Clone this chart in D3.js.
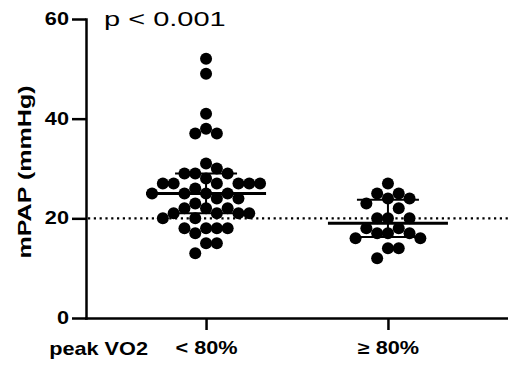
<!DOCTYPE html>
<html>
<head>
<meta charset="utf-8">
<script src="https://cdn.jsdelivr.net/npm/d3@7"></script>
<style>
  body { margin: 0; background: #fff; }
  svg { display: block; font-family: "Liberation Sans", Arial, sans-serif; }
  .axis path, .axis line { stroke: #000; stroke-width: 2.5px; }
  .axis text { font-size: 17.5px; font-weight: bold; fill: #000; }
</style>
</head>
<body>
<svg id="chart" width="508" height="370"></svg>
<script>
// groups and raw mPAP values
let groups = ['< 80%', '≥ 80%'];
let lowVO2 = [52, 49, 41, 38, 37, 37, 31, 30, 29, 29, 29, 28, 27, 27, 27, 27, 27, 27, 26,
  25, 25, 25, 25, 24, 24, 23, 22, 22, 22, 21, 21, 21, 21, 20, 20, 18, 18, 18, 18, 17, 15, 15, 13];
let highVO2 = [27, 25, 25, 24, 24, 23, 22, 20, 20, 20, 18, 18, 17, 17, 17, 16, 16, 14, 14, 12];
let yTicks = [0, 20, 40, 60];
let threshold = 20;

let series = [lowVO2, highVO2];
let stretch = 1.24; // the original font is wider than Arial

let svg = d3.select('#chart');

let x = d3.scalePoint()
  .domain(groups)
  .range([86, 508])
  .padding(0.66);

let y = d3.scaleLinear()
  .domain([0, 60])
  .range([318, 19]);

// quartiles the way Prism does them: position (n+1)p
function quart(arr, p) {
  let s = arr.slice().sort(d3.ascending);
  let h = (s.length + 1) * p - 1;
  let lo = Math.max(0, Math.min(s.length - 1, Math.floor(h)));
  let hi = Math.min(s.length - 1, lo + 1);
  return s[lo] + (h - lo) * (s[hi] - s[lo]);
}

// simple greedy swarm on a column grid
function swarm(values, cx) {
  let step = 10.8, minDist = 10.6;
  let placed = [];
  return values.map(function (v) {
    let py = y(v);
    let px = null;
    for (let k = 0; k < 30 && px === null; k++) {
      let offs = k === 0 ? [0] : [k, -k];
      for (let o of offs) {
        let cand = cx + o * step;
        let ok = placed.every(function (p) { return Math.hypot(p.x - cand, p.y - py) >= minDist; });
        if (ok) { px = cand; break; }
      }
    }
    placed.push({ x: px, y: py });
    return { v: v, x: px, y: py };
  });
}

//======= threshold line =======//
svg.append('line')
  .attr('x1', x.range()[0] + 2)
  .attr('x2', x.range()[1])
  .attr('y1', y(threshold))
  .attr('y2', y(threshold))
  .attr('stroke', '#000')
  .attr('stroke-width', 2.2)
  .attr('stroke-dasharray', '2.2 3.6');

//======= dots =======//
series.forEach(function (vals, i) {
  svg.append('g')
    .selectAll('circle')
    .data(swarm(vals, x(groups[i])))
    .enter()
    .append('circle')
    .attr('cx', function (d) { return d.x; })
    .attr('cy', function (d) { return d.y; })
    .attr('r', 6)
    .attr('fill', '#000');
});

//======= median + IQR =======//
series.forEach(function (vals, i) {
  let cx = x(groups[i]);
  let g = svg.append('g').attr('stroke', '#000');
  let med = quart(vals, 0.5), q1 = quart(vals, 0.25), q3 = quart(vals, 0.75);
  g.append('line')
    .attr('x1', cx).attr('x2', cx)
    .attr('y1', y(q1)).attr('y2', y(q3))
    .attr('stroke-width', 2);
  [q1, q3].forEach(function (q) {
    g.append('line')
      .attr('x1', cx - 31).attr('x2', cx + 31)
      .attr('y1', y(q)).attr('y2', y(q))
      .attr('stroke-width', 2);
  });
  g.append('line')
    .attr('x1', cx - 60).attr('x2', cx + 60)
    .attr('y1', y(med)).attr('y2', y(med))
    .attr('stroke-width', 3);
});

//======= axes =======//
let yAxis = svg.append('g')
  .attr('class', 'axis')
  .attr('transform', 'translate(86,0)')
  .call(d3.axisLeft(y).tickValues(yTicks).tickSize(14).tickSizeOuter(0).tickPadding(3));

yAxis.selectAll('text').each(function () {
  let t = d3.select(this);
  let tx = +t.attr('x');
  t.attr('x', 0).attr('transform', 'translate(' + tx + ',0) scale(' + stretch + ',1)');
});

let xAxis = svg.append('g')
  .attr('class', 'axis')
  .attr('transform', 'translate(0,318)')
  .call(d3.axisBottom(x).tickSize(12).tickSizeOuter(0).tickPadding(12));

xAxis.selectAll('text')
  .attr('transform', 'scale(' + stretch + ',1)');

svg.selectAll('.axis path').attr('stroke-linecap', 'square');

//======= labels =======//
svg.append('text')
  .attr('transform', 'translate(148,355) scale(' + stretch + ',1)')
  .attr('text-anchor', 'end')
  .style('font-size', '17.5px')
  .style('font-weight', 'bold')
  .text('peak VO2');

svg.append('text')
  .attr('transform', 'translate(31,172) rotate(-90) scale(1.32,1)')
  .attr('text-anchor', 'middle')
  .style('font-size', '19px')
  .style('font-weight', 'bold')
  .text('mPAP (mmHg)');

svg.append('text')
  .attr('transform', 'translate(104,26) scale(1.38,1)')
  .style('font-size', '21px')
  .text('p < 0.001');
</script>
</body>
</html>
